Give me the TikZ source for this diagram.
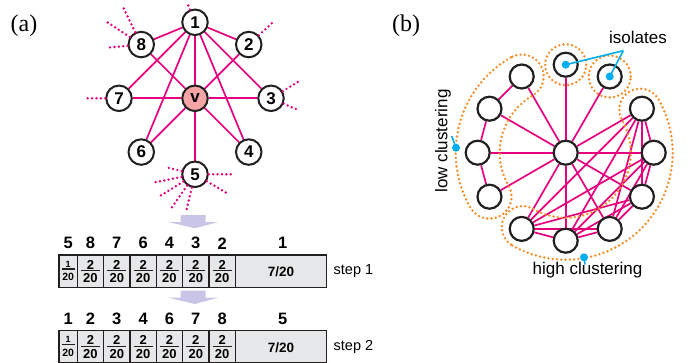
\documentclass[tikz,border=0pt]{standalone}
\usepackage{fontspec}
\setmainfont{Liberation Serif}
\setsansfont{Liberation Sans}
\usetikzlibrary{backgrounds}
\definecolor{edgepink}{RGB}{230,0,126}
\definecolor{vpink}{RGB}{245,165,165}
\definecolor{odot}{RGB}{245,140,40}
\definecolor{ablue}{RGB}{0,174,239}
\definecolor{cellgray}{RGB}{230,231,232}
\definecolor{lav}{RGB}{201,197,230}
\definecolor{ink}{RGB}{35,31,32}
\begin{document}
\begin{tikzpicture}[x=1pt,y=1pt,
 gnode/.style={circle,draw=ink,line width=2pt,fill=white,minimum size=25.5pt,inner sep=0pt,font=\sffamily\bfseries\fontsize{17}{17}\selectfont},
 bnode/.style={circle,draw=ink,line width=2.2pt,fill=white,minimum size=24pt,inner sep=0pt},
 edge/.style={draw=edgepink,line width=1.7pt},
 stub/.style={draw=edgepink,line width=2.7pt,line cap=round,dash pattern=on 0pt off 4.4pt},
 orng/.style={draw=odot,line width=2.7pt,line cap=round,dash pattern=on 0pt off 4.3pt},
 bl/.style={draw=ablue,line width=1.6pt},
 bdot/.style={circle,fill=ablue,inner sep=0pt,minimum size=8pt},
 cell/.style={draw=ink,line width=1.5pt,fill=cellgray},
 arr/.style={fill=lav,draw=none},
 lab/.style={font=\sffamily\fontsize{17}{17}\selectfont,inner sep=0pt},
 panel/.style={font=\fontsize{24}{24}\selectfont,inner sep=0pt},
 toplab/.style={font=\sffamily\bfseries\fontsize{16.5}{16.5}\selectfont,inner sep=0pt},
 fnum/.style={font=\sffamily\bfseries\fontsize{13}{13}\selectfont,inner sep=0pt},
 fsmall/.style={font=\sffamily\bfseries\fontsize{9}{9}\selectfont,inner sep=0pt},
 fsmallb/.style={font=\sffamily\bfseries\fontsize{10.5}{10.5}\selectfont,inner sep=0pt},
 seven/.style={font=\sffamily\bfseries\fontsize{13.5}{13.5}\selectfont,inner sep=0pt},
 steplab/.style={font=\sffamily\fontsize{14.5}{14.5}\selectfont,inner sep=0pt,anchor=west},
 bar/.style={draw=ink,line width=1.3pt}
]
\useasboundingbox (0,0) rectangle (692,362);
\clip (0,0) rectangle (692,362);

% panel labels
\node[panel] (pa) at (24,336) {(a)};
\node[panel] (pb) at (406,336) {(b)};

% ---------- graph (a) ----------
\begin{scope}[shift={(195,263.7)}]
\node[gnode,fill=vpink] (v) at (0,0) {v};
\node[gnode] (a1) at (90:76) {1};
\node[gnode] (a2) at (45:76) {2};
\node[gnode] (a3) at (0:76) {3};
\node[gnode] (a4) at (-45:76) {4};
\node[gnode] (a5) at (-90:76) {5};
\node[gnode] (a6) at (-135:76) {6};
\node[gnode] (a7) at (180:76) {7};
\node[gnode] (a8) at (135:76) {8};
\end{scope}
\begin{scope}[on background layer]
\foreach \n in {a1,a2,a3,a4,a5,a6,a7,a8} \draw[edge] (v) -- (\n);
\foreach \n in {a2,a3,a4,a6,a7,a8} \draw[edge] (a1) -- (\n);
\end{scope}
% dotted outside links
\draw[stub] (a8) -- ++(-18,37);
\draw[stub] (a8) -- ++(-35,23);
\draw[stub] (a8) -- ++(-33,-3);
\draw[stub] (a1) -- ++(-8,20);
\draw[stub] (a2) -- ++(25,23);
\draw[stub] (a3) -- ++(28,17);
\draw[stub] (a3) -- ++(28,-12);
\draw[stub] (a7) -- ++(-32,0);
\draw[stub] (a5) -- ++(-30,7.3);
\draw[stub] (a5) -- ++(-41.7,-8.3);
\draw[stub] (a5) -- ++(-35,-21.7);
\draw[stub] (a5) -- ++(-23.3,-33.3);
\draw[stub] (a5) -- ++(-8.3,-35);
\draw[stub] (a5) -- ++(36.7,0);
\draw[stub] (a5) -- ++(31,-18.3);

% ---------- arrows ----------
\fill[arr] (180.7,147) -- (205.7,147) -- (205.7,140) -- (218.3,140) -- (195,133.7) -- (168.3,140) -- (180.7,140) -- cycle;
\fill[arr] (180.7,71.3) -- (205.7,71.3) -- (205.7,64.3) -- (218.3,64.3) -- (195,58) -- (168.3,64.3) -- (180.7,64.3) -- cycle;

% ---------- step rows ----------
\begin{scope}
\filldraw[cell] (59,74.7) rectangle (326.7,107);
\foreach \x in {77.3,103.63,129.96,156.29,182.62,208.95,235.28} \draw[ink,line width=1.5pt] (\x,74.7) -- (\x,107);
\node[fsmall] (s1n0) at (68.15,98) {1};
\draw[bar] (62,93) -- (74.5,93);
\node[fsmallb] (s1d0) at (68.15,85.3) {20};
\foreach \cx [count=\i] in {90.47,116.8,143.13,169.46,195.79,222.12} {
  \node[fnum] (s1n\i) at (\cx,97.5) {2};
  \draw[bar] ({\cx-9.5},91.3) -- ({\cx+9.5},91.3);
  \node[fnum] (s1d\i) at (\cx,83.7) {20};
}
\node[seven] (s1last) at (281,90.3) {7/20};
\node[steplab] (st1) at (333.5,90.5) {step 1};
\foreach \cx/\l [count=\i] in {68.3/5,90.5/8,116.8/7,143.1/6,169.5/4,195.8/3,222.1/2,282.7/1}
  \node[toplab] (h1\i) at (\cx,118.7) {\l};
\end{scope}
\begin{scope}[yshift=-75.7]
\filldraw[cell] (59,74.7) rectangle (326.7,107);
\foreach \x in {77.3,103.63,129.96,156.29,182.62,208.95,235.28} \draw[ink,line width=1.5pt] (\x,74.7) -- (\x,107);
\node[fsmall] (s2n0) at (68.15,98) {1};
\draw[bar] (62,93) -- (74.5,93);
\node[fsmallb] (s2d0) at (68.15,85.3) {20};
\foreach \cx [count=\i] in {90.47,116.8,143.13,169.46,195.79,222.12} {
  \node[fnum] (s2n\i) at (\cx,97.5) {2};
  \draw[bar] ({\cx-9.5},91.3) -- ({\cx+9.5},91.3);
  \node[fnum] (s2d\i) at (\cx,83.7) {20};
}
\node[seven] (s2last) at (281,90.3) {7/20};
\node[steplab] (st2) at (333.5,90.5) {step 2};
\foreach \cx/\l [count=\i] in {68.3/1,90.5/2,116.8/3,143.1/4,169.5/6,195.8/7,222.1/8,282.7/5}
  \node[toplab] (h2\i) at (\cx,118.7) {\l};
\end{scope}

% ---------- graph (b) ----------
\begin{scope}[shift={(565.7,209.3)}]
\node[bnode] (c) at (0,0) {};
\node[bnode] (t) at (90:88) {};
\node[bnode] (i2) at (60:88) {};
\node[bnode] (r2) at (30:88) {};
\node[bnode] (r3) at (0:88) {};
\node[bnode] (r4) at (-30:88) {};
\node[bnode] (b3) at (-60:88) {};
\node[bnode] (b2) at (-90:88) {};
\node[bnode] (b1) at (-120:88) {};
\node[bnode] (l4) at (-150:88) {};
\node[bnode] (l3) at (180:88) {};
\node[bnode] (l2) at (150:88) {};
\node[bnode] (l1) at (120:88) {};
% low clustering outline
\draw[orng] (120:110) arc[start angle=120,end angle=210,radius=110]
  arc[start angle=210,end angle=390,radius=22]
  arc[start angle=210,end angle=120,radius=66]
  arc[start angle=300,end angle=480,radius=22] -- cycle;
% high clustering outline
\draw[orng] (-120:107) arc[start angle=-120,end angle=30,radius=107]
  arc[start angle=30,end angle=210,radius=21]
  arc[start angle=30,end angle=-120,radius=65]
  arc[start angle=60,end angle=240,radius=21] -- cycle;
\end{scope}
\begin{scope}[on background layer]
\foreach \n in {t,i2,r2,r3,r4,b3,b2,b1,l4,l3,l2,l1} \draw[edge] (c) -- (\n);
\draw[edge] (l1) -- (l2);
\draw[edge] (l2) -- (l3);
\draw[edge] (l3) -- (l4);
\foreach \a/\b in {r2/r3,r2/r4,r2/b3,r2/b2,r2/b1,r3/r4,r3/b3,r3/b2,r3/b1,r4/b3,r4/b2,r4/b1,b3/b2,b3/b1,b2/b1}
  \draw[edge] (\a) -- (\b);
\end{scope}
% isolate outlines
\draw[orng] (t.center) circle[radius=20.5];
\draw[orng] (i2.center) circle[radius=21];

% annotations
\node[lab] (iso) at (638,324.5) {isolates};
\coordinate (jn) at (623.3,311.3);
\node[bdot] (dt) at (t.center) {};
\node[bdot] (di) at (i2.center) {};
\draw[bl] (jn) -- (dt.center);
\draw[bl] (jn) -- (di.center);

\node[lab,rotate=90] (low) at (443,221) {low clustering};
\node[bdot] (dl) at (456,214.3) {};
\coordinate (jl) at (451.7,226);
\draw[bl] (dl.center) -- (jl);

\node[lab] (high) at (587.5,91.5) {high clustering};
\node[bdot] (dh) at (584,104.7) {};
\coordinate (jh) at (585,97.5);
\draw[bl] (dh.center) -- (jh);
\end{tikzpicture}
\end{document}
